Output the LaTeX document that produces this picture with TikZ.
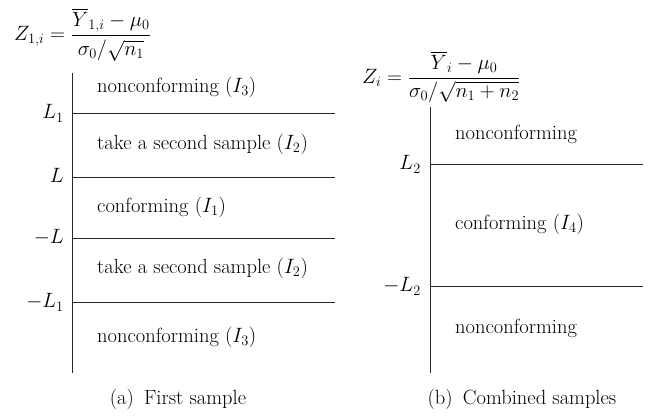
\documentclass[tikz,border=0pt]{standalone}
\usepackage{amsmath}
\begin{document}
\begin{tikzpicture}[x=1pt,y=-1pt,
  ax/.style={line width=0.9pt,draw=black!85},
  fnt/.style={inner sep=0pt,font=\fontsize{20.5}{24}\selectfont},
  txt/.style={fnt,anchor=west},
  lab/.style={fnt,anchor=base east},
  captxt/.style={fnt,anchor=base},
  frm/.style={fnt,anchor=west}]
\useasboundingbox (0,0) rectangle (651,419);
% left panel
\node[frm] (f1) at (14,35) {$Z_{1,i}=\dfrac{\overline{Y}_{1,i}-\mu_0}{\sigma_0/\sqrt{n_1}}$};
\coordinate (a0) at (72,73);
\coordinate (a1) at (72,373);
\draw[ax] (a0) -- (a1);
\foreach \n/\y/\t in {l1/113/{$L_1$},l2/177/{$L$},l3/238/{$-L$},l4/302/{$-L_1$}}{
  \coordinate (\n s) at (72,\y);
  \coordinate (\n e) at (335,\y);
  \draw[ax] (\n s) -- (\n e);
  \node[lab] (\n t) at (64,\y+6) {\t};
}
\node[txt] (t1) at (97,87) {nonconforming $(I_3)$};
\node[txt] (t2) at (97,144) {take a second sample $(I_2)$};
\node[txt] (t3) at (97,207) {conforming $(I_1)$};
\node[txt] (t4) at (97,268) {take a second sample $(I_2)$};
\node[txt] (t5) at (97,337) {nonconforming $(I_3)$};
\node[captxt] (c1) at (178,405) {(a)\enspace First sample};
% right panel
\node[frm] (f2) at (362,77) {$Z_{i}=\dfrac{\overline{Y}_{i}-\mu_0}{\sigma_0/\sqrt{n_1+n_2}}$};
\coordinate (b0) at (430,107);
\coordinate (b1) at (430,373);
\draw[ax] (b0) -- (b1);
\foreach \n/\y/\t in {r1/164/{$L_2$},r2/286/{$-L_2$}}{
  \coordinate (\n s) at (430,\y);
  \coordinate (\n e) at (643,\y);
  \draw[ax] (\n s) -- (\n e);
  \node[lab] (\n t) at (421,\y+6) {\t};
}
\node[txt] (u1) at (455,134) {nonconforming};
\node[txt] (u2) at (455,224) {conforming $(I_4)$};
\node[txt] (u3) at (455,328) {nonconforming};
\node[captxt] (c2) at (522,405) {(b)\enspace Combined samples};
\end{tikzpicture}
\end{document}
